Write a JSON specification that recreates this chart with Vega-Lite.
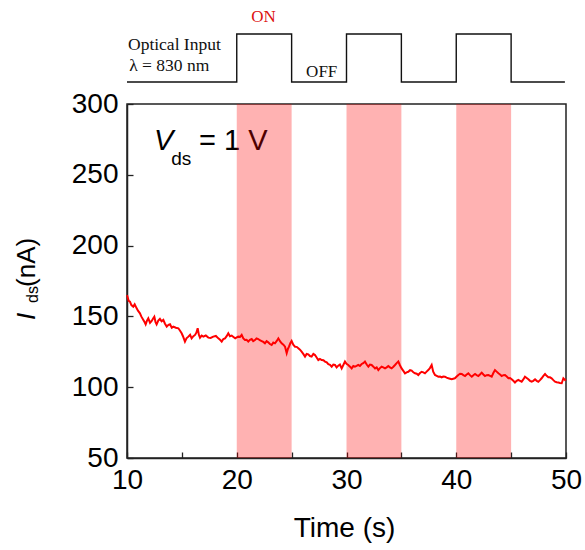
{
  "$schema": "https://vega.github.io/schema/vega-lite/v6.json",
  "autosize": {"type": "none"},
  "width": 439,
  "height": 354,
  "padding": {"left": 127, "top": 104, "right": 19, "bottom": 92},
  "background": "white",
  "config": {
    "view": {"stroke": "#222222", "strokeWidth": 1.5},
    "axis": {
      "grid": false,
      "labelFont": "Liberation Sans",
      "labelFontSize": 28,
      "labelColor": "#000000",
      "titleFont": "Liberation Sans",
      "titleFontSize": 28,
      "titleFontWeight": "normal",
      "titleColor": "#000000",
      "domainColor": "#222222",
      "domainWidth": 1.5,
      "tickColor": "#222222",
      "tickWidth": 1.3,
      "tickSize": -6,
      "labelFlush": false,
      "labelOverlap": false,
      "labelBound": false
    }
  },
  "datasets": {
    "current": [
      {"t":10.0,"i":165},{"t":10.05,"i":163.9},{"t":10.15,"i":161},{"t":10.27,"i":160.4},{"t":10.4,"i":158},{"t":10.57,"i":156.9},{"t":10.7,"i":158.5},{"t":10.88,"i":155.7},{"t":11.0,"i":154},{"t":11.18,"i":152.2},{"t":11.3,"i":150},{"t":11.49,"i":147.5},{"t":11.6,"i":146},{"t":11.7,"i":144.4},{"t":11.82,"i":147},{"t":11.94,"i":148.6},{"t":12.1,"i":145.5},{"t":12.25,"i":146.8},{"t":12.38,"i":148.5},{"t":12.49,"i":149.8},{"t":12.6,"i":146},{"t":12.7,"i":144.4},{"t":12.85,"i":147},{"t":13.0,"i":148.2},{"t":13.15,"i":146.5},{"t":13.31,"i":147.5},{"t":13.45,"i":145},{"t":13.62,"i":142.8},{"t":13.78,"i":144},{"t":13.92,"i":144.4},{"t":14.08,"i":142},{"t":14.22,"i":142.8},{"t":14.45,"i":142},{"t":14.68,"i":141.6},{"t":14.82,"i":140},{"t":14.98,"i":138.1},{"t":15.1,"i":136},{"t":15.28,"i":132.2},{"t":15.42,"i":134.5},{"t":15.59,"i":135.7},{"t":15.75,"i":137},{"t":15.89,"i":134.5},{"t":16.05,"i":136},{"t":16.2,"i":136.9},{"t":16.32,"i":138.5},{"t":16.44,"i":141.6},{"t":16.55,"i":137},{"t":16.65,"i":135},{"t":16.8,"i":136.5},{"t":16.95,"i":135.7},{"t":17.18,"i":136.5},{"t":17.41,"i":135},{"t":17.62,"i":134.8},{"t":17.86,"i":135.7},{"t":18.1,"i":136.2},{"t":18.32,"i":134.5},{"t":18.48,"i":133.5},{"t":18.63,"i":132.2},{"t":18.78,"i":134},{"t":18.93,"i":134.5},{"t":19.08,"i":136},{"t":19.23,"i":138.1},{"t":19.38,"i":136},{"t":19.54,"i":136.4},{"t":19.7,"i":135.5},{"t":19.86,"i":134.5},{"t":20.0,"i":135.2},{"t":20.14,"i":135.7},{"t":20.3,"i":135.5},{"t":20.45,"i":136.9},{"t":20.6,"i":134.5},{"t":20.75,"i":133.3},{"t":20.9,"i":133.5},{"t":21.05,"i":132.2},{"t":21.2,"i":133.5},{"t":21.36,"i":134.0},{"t":21.5,"i":132.5},{"t":21.66,"i":133.3},{"t":21.8,"i":134.5},{"t":21.96,"i":134.0},{"t":22.1,"i":133.2},{"t":22.27,"i":132.6},{"t":22.42,"i":132},{"t":22.57,"i":131.0},{"t":22.72,"i":132.5},{"t":22.87,"i":131.7},{"t":23.02,"i":130.5},{"t":23.18,"i":129.8},{"t":23.33,"i":131.5},{"t":23.48,"i":131.0},{"t":23.63,"i":132.5},{"t":23.79,"i":134.5},{"t":23.94,"i":132.5},{"t":24.09,"i":131.0},{"t":24.25,"i":130},{"t":24.4,"i":128.6},{"t":24.55,"i":124.0},{"t":24.66,"i":127},{"t":24.76,"i":128.6},{"t":24.88,"i":131},{"t":25.0,"i":132.6},{"t":25.15,"i":130},{"t":25.31,"i":128.6},{"t":25.46,"i":128.5},{"t":25.61,"i":127.5},{"t":25.76,"i":126.5},{"t":25.91,"i":125.1},{"t":26.06,"i":123.5},{"t":26.22,"i":121.6},{"t":26.37,"i":123.5},{"t":26.52,"i":123.2},{"t":26.67,"i":122},{"t":26.82,"i":121.6},{"t":26.98,"i":123.5},{"t":27.13,"i":122.7},{"t":27.28,"i":121},{"t":27.43,"i":119.2},{"t":27.58,"i":120},{"t":27.74,"i":119.2},{"t":27.9,"i":119},{"t":28.04,"i":118.1},{"t":28.2,"i":117.5},{"t":28.34,"i":116.2},{"t":28.5,"i":115.8},{"t":28.65,"i":114.5},{"t":28.8,"i":116},{"t":28.95,"i":115.7},{"t":29.1,"i":114},{"t":29.25,"i":115.2},{"t":29.4,"i":116},{"t":29.56,"i":113.3},{"t":29.7,"i":115.5},{"t":29.86,"i":118.1},{"t":30.0,"i":116.5},{"t":30.16,"i":115.7},{"t":30.32,"i":114.5},{"t":30.47,"i":113.3},{"t":30.62,"i":115},{"t":30.77,"i":114.5},{"t":30.92,"i":115},{"t":31.07,"i":115.7},{"t":31.22,"i":115},{"t":31.38,"i":116.4},{"t":31.53,"i":117},{"t":31.68,"i":118.1},{"t":31.84,"i":116},{"t":31.99,"i":114.5},{"t":32.14,"i":116},{"t":32.29,"i":115.7},{"t":32.45,"i":114.5},{"t":32.6,"i":113.3},{"t":32.75,"i":114},{"t":32.9,"i":112.1},{"t":33.05,"i":113.5},{"t":33.2,"i":114.5},{"t":33.35,"i":114},{"t":33.51,"i":113.3},{"t":33.66,"i":114},{"t":33.81,"i":115.0},{"t":33.96,"i":114},{"t":34.11,"i":113.3},{"t":34.27,"i":114.5},{"t":34.42,"i":115.7},{"t":34.57,"i":117},{"t":34.72,"i":118.1},{"t":34.87,"i":115.5},{"t":35.02,"i":113.3},{"t":35.18,"i":111.5},{"t":35.33,"i":109.8},{"t":35.48,"i":110.5},{"t":35.63,"i":110.9},{"t":35.79,"i":112},{"t":35.94,"i":111.7},{"t":36.09,"i":110.5},{"t":36.24,"i":109.8},{"t":36.4,"i":109.5},{"t":36.54,"i":108.6},{"t":36.7,"i":110},{"t":36.85,"i":110.9},{"t":37.0,"i":110.5},{"t":37.15,"i":109.8},{"t":37.3,"i":111},{"t":37.45,"i":112.1},{"t":37.6,"i":113.5},{"t":37.76,"i":115.7},{"t":37.9,"i":111},{"t":38.06,"i":108.6},{"t":38.22,"i":108},{"t":38.37,"i":107.4},{"t":38.52,"i":107.5},{"t":38.67,"i":107.0},{"t":38.82,"i":107.5},{"t":38.97,"i":107.4},{"t":39.12,"i":106.8},{"t":39.28,"i":106.3},{"t":39.43,"i":106},{"t":39.58,"i":105.6},{"t":39.73,"i":106},{"t":39.88,"i":106.3},{"t":40.04,"i":107.5},{"t":40.19,"i":108.6},{"t":40.35,"i":109.5},{"t":40.5,"i":109.3},{"t":40.65,"i":108.5},{"t":40.8,"i":107.9},{"t":40.95,"i":109},{"t":41.1,"i":109.8},{"t":41.25,"i":108.5},{"t":41.41,"i":107.4},{"t":41.56,"i":108.5},{"t":41.71,"i":109.3},{"t":41.86,"i":108.5},{"t":42.01,"i":107.9},{"t":42.16,"i":109},{"t":42.32,"i":110.3},{"t":42.47,"i":109},{"t":42.62,"i":107.9},{"t":42.77,"i":108.5},{"t":42.93,"i":108.6},{"t":43.08,"i":108},{"t":43.23,"i":107.4},{"t":43.38,"i":110},{"t":43.53,"i":112.1},{"t":43.68,"i":111},{"t":43.84,"i":109.8},{"t":43.99,"i":109},{"t":44.14,"i":107.9},{"t":44.29,"i":108.5},{"t":44.44,"i":108.6},{"t":44.6,"i":107.5},{"t":44.75,"i":106.3},{"t":44.9,"i":106.5},{"t":45.05,"i":105.6},{"t":45.2,"i":104.5},{"t":45.35,"i":103.3},{"t":45.5,"i":104.5},{"t":45.66,"i":105.1},{"t":45.81,"i":104.5},{"t":45.96,"i":103.9},{"t":46.11,"i":105.5},{"t":46.26,"i":107.4},{"t":46.42,"i":106.5},{"t":46.57,"i":105.6},{"t":46.72,"i":104.5},{"t":46.87,"i":103.9},{"t":47.02,"i":104.5},{"t":47.18,"i":105.6},{"t":47.33,"i":104.5},{"t":47.48,"i":103.9},{"t":47.63,"i":105},{"t":47.78,"i":106.3},{"t":47.94,"i":108},{"t":48.09,"i":109.3},{"t":48.24,"i":108},{"t":48.39,"i":107.0},{"t":48.54,"i":107},{"t":48.69,"i":106.3},{"t":48.85,"i":105},{"t":49.0,"i":103.9},{"t":49.15,"i":103.5},{"t":49.3,"i":103.3},{"t":49.45,"i":103},{"t":49.61,"i":102.8},{"t":49.76,"i":106.3},{"t":49.91,"i":105.1},{"t":50.0,"i":105.5}
    ],
    "optical": [
      {"t":10,"level":315.5},{"t":20,"level":349.4},{"t":25,"level":315.5},{"t":30,"level":349.4},{"t":35,"level":315.5},{"t":40,"level":349.4},{"t":45,"level":315.5},{"t":49.9,"level":315.5}
    ],
    "bands": [
      {"start":20,"end":25},{"start":30,"end":35},{"start":40,"end":45}
    ]
  },
  "layer": [
    {
      "data": {"name": "current"},
      "mark": {"type": "line", "color": "#ff0000", "strokeWidth": 2},
      "encoding": {
        "x": {"field": "t", "type": "quantitative",
          "scale": {"domain": [10, 50], "nice": false, "zero": false},
          "axis": {"values": [10,15,20,25,30,35,40,45,50],
            "labelExpr": "datum.value % 10 == 0 ? datum.label : ''",
            "labelPadding": 14, "title": "Time (s)", "titleX": 217, "titleY": 78,
            "titleBaseline": "alphabetic", "titleAlign": "center"}},
        "y": {"field": "i", "type": "quantitative",
          "scale": {"domain": [50, 300], "nice": false, "zero": false},
          "axis": {"values": [50,75,100,125,150,175,200,225,250,275,300],
            "labelExpr": "datum.value % 50 == 0 ? datum.label : ''",
            "labelPadding": 15, "title": null}}
      }
    },
    {
      "data": {"name": "optical"},
      "mark": {"type": "line", "interpolate": "step-after", "color": "#111111", "strokeWidth": 1.4},
      "encoding": {
        "x": {"field": "t", "type": "quantitative", "scale": {"domain": [10, 50], "nice": false, "zero": false}},
        "y": {"field": "level", "type": "quantitative", "scale": {"domain": [50, 300], "nice": false, "zero": false}}
      }
    },
    {
      "data": {"values": [{"label": "Optical Input", "t": 10.09, "v": 338.1}, {"label": "λ = 830 nm", "t": 10.2, "v": 323.3}]},
      "mark": {"type": "text", "font": "Liberation Serif", "fontSize": 17.5, "align": "left", "baseline": "alphabetic", "color": "#111111"},
      "encoding": {
        "x": {"field": "t", "type": "quantitative"},
        "y": {"field": "v", "type": "quantitative"},
        "text": {"field": "label"}
      }
    },
    {
      "data": {"values": [{"label": "ON", "t": 22.44, "v": 358.1}]},
      "mark": {"type": "text", "font": "Liberation Serif", "fontSize": 17, "align": "center", "baseline": "alphabetic", "color": "#dd1111"},
      "encoding": {
        "x": {"field": "t", "type": "quantitative"},
        "y": {"field": "v", "type": "quantitative"},
        "text": {"field": "label"}
      }
    },
    {
      "data": {"values": [{"label": "OFF", "t": 27.74, "v": 319.3}]},
      "mark": {"type": "text", "font": "Liberation Serif", "fontSize": 17, "align": "center", "baseline": "alphabetic", "color": "#111111"},
      "encoding": {
        "x": {"field": "t", "type": "quantitative"},
        "y": {"field": "v", "type": "quantitative"},
        "text": {"field": "label"}
      }
    },
    {
      "data": {"values": [{"label": "V", "t": 12.45, "v": 267.5}]},
      "mark": {"type": "text", "font": "Liberation Sans", "fontSize": 29, "fontStyle": "italic", "align": "left", "baseline": "alphabetic", "color": "#000000"},
      "encoding": {
        "x": {"field": "t", "type": "quantitative"},
        "y": {"field": "v", "type": "quantitative"},
        "text": {"field": "label"}
      }
    },
    {
      "data": {"values": [{"label": "ds", "t": 14.03, "v": 256.9}]},
      "mark": {"type": "text", "font": "Liberation Sans", "fontSize": 19, "align": "left", "baseline": "alphabetic", "color": "#000000"},
      "encoding": {
        "x": {"field": "t", "type": "quantitative"},
        "y": {"field": "v", "type": "quantitative"},
        "text": {"field": "label"}
      }
    },
    {
      "data": {"values": [{"label": "= 1 V", "t": 16.56, "v": 267.5}]},
      "mark": {"type": "text", "font": "Liberation Sans", "fontSize": 29, "align": "left", "baseline": "alphabetic", "color": "#000000"},
      "encoding": {
        "x": {"field": "t", "type": "quantitative"},
        "y": {"field": "v", "type": "quantitative"},
        "text": {"field": "label"}
      }
    },
    {
      "data": {"values": [{"label": "I", "t": 1.62, "v": 147.5}]},
      "mark": {"type": "text", "font": "Liberation Sans", "fontSize": 26, "fontStyle": "italic", "angle": 270, "align": "left", "baseline": "alphabetic", "color": "#000000"},
      "encoding": {
        "x": {"field": "t", "type": "quantitative"},
        "y": {"field": "v", "type": "quantitative"},
        "text": {"field": "label"}
      }
    },
    {
      "data": {"values": [{"label": "ds", "t": 1.89, "v": 159.5}]},
      "mark": {"type": "text", "font": "Liberation Sans", "fontSize": 16, "angle": 270, "align": "left", "baseline": "alphabetic", "color": "#000000"},
      "encoding": {
        "x": {"field": "t", "type": "quantitative"},
        "y": {"field": "v", "type": "quantitative"},
        "text": {"field": "label"}
      }
    },
    {
      "data": {"values": [{"label": "(nA)", "t": 1.62, "v": 170.8}]},
      "mark": {"type": "text", "font": "Liberation Sans", "fontSize": 26, "angle": 270, "align": "left", "baseline": "alphabetic", "color": "#000000"},
      "encoding": {
        "x": {"field": "t", "type": "quantitative"},
        "y": {"field": "v", "type": "quantitative"},
        "text": {"field": "label"}
      }
    },
    {
      "data": {"name": "bands"},
      "mark": {"type": "rect", "color": "#ff0000", "opacity": 0.3},
      "encoding": {
        "x": {"field": "start", "type": "quantitative", "scale": {"domain": [10, 50], "nice": false, "zero": false}},
        "x2": {"field": "end"}
      }
    }
  ]
}
